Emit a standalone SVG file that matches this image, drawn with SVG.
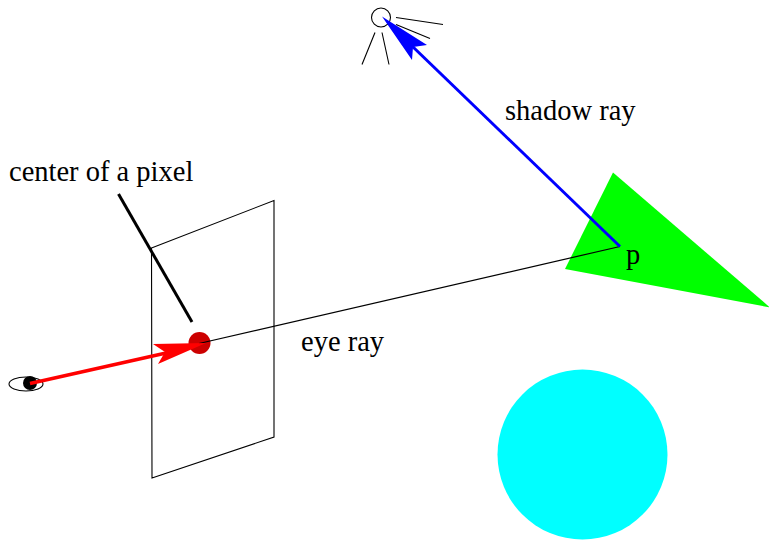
<svg xmlns="http://www.w3.org/2000/svg" width="769" height="541" viewBox="0 0 769 541">
<style>
text{font-family:"Liberation Serif","Times New Roman",serif;font-size:28.5px;fill:#000}
.thin{fill:none;stroke:#000;stroke-width:1.1}
</style>
<rect width="769" height="541" fill="#fff"/>
<g id="sphere"><circle cx="582.500" cy="454.500" r="85" fill="#00ffff"/></g>
<g id="triangle"><polygon points="613,172.500 770,307.500 565,269" fill="#00ff00"/></g>
<g id="pixel-plane"><polygon class="thin" points="151.500,248 274,200.500 274,437 152,478"/></g>
<g id="light">
<circle class="thin" cx="381" cy="17.500" r="9.500"/>
<path class="thin" d="M396,17.500L443,24.500M396,24.500L430,38.500M375,32.500L362,64.500M382,32.500L389,64.500"/>
</g>
<g id="eye">
<ellipse class="thin" cx="26" cy="384" rx="17" ry="7"/>
<circle cx="30" cy="383" r="7" fill="#000"/>
</g>
<g id="pixel-center"><circle cx="199.500" cy="343" r="11" fill="#cc0000"/></g>
<g id="connectors">
<path d="M199,343.500L620,246.500" fill="none" stroke="#000" stroke-width="1.200"/>
<path d="M118.500,194L192,322" fill="none" stroke="#000" stroke-width="3"/>
<path d="M30,383.500L175,351" fill="none" stroke="#ff0000" stroke-width="3.500"/>
<polygon points="206,343 158,364 165,352 153,344" fill="#ff0000"/>
<path d="M620,246.500L412,46" fill="none" stroke="#0000ff" stroke-width="3"/>
<polygon points="382,16.500 427,45 413,47 412,60" fill="#0000ff"/>
</g>
<text x="9" y="181">center of a pixel</text>
<text x="505" y="120">shadow ray</text>
<text x="301" y="351">eye ray</text>
<text x="626" y="264">p</text>
</svg>
